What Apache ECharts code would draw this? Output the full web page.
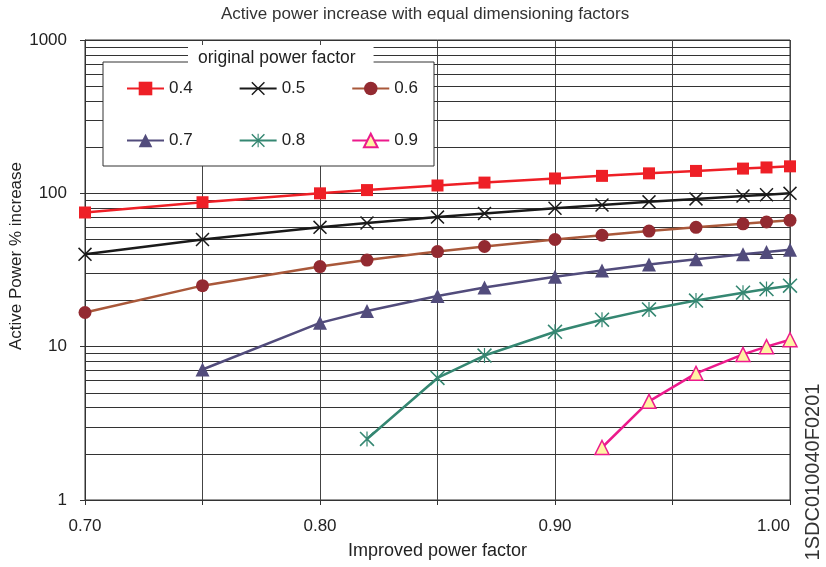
<!DOCTYPE html>
<html><head><meta charset="utf-8">
<script src="https://cdn.jsdelivr.net/npm/echarts@6/dist/echarts.min.js"></script>
<style>html,body{margin:0;padding:0;background:#fff}#c{width:826px;height:567px}</style>
</head><body><div id="c"></div>
<script>
// ---- data ----
const improvedPF = [0.70, 0.75, 0.80, 0.82, 0.85, 0.87, 0.90, 0.92, 0.94, 0.96, 0.98, 0.99, 1.00];
const pf04 = [75, 87.5, 100, 105, 112.5, 117.5, 125, 130, 135, 140, 145, 147.5, 150];
const pf05 = [40, 50, 60, 64, 70, 74, 80, 84, 88, 92, 96, 98, 100];
const pf06 = [16.7, 25, 33.3, 36.7, 41.7, 45, 50, 53.3, 56.7, 60, 63.3, 65, 66.7];
const pf07 = [null, 7.1, 14.3, 17.1, 21.4, 24.3, 28.6, 31.4, 34.3, 37.1, 40, 41.4, 42.9];
const pf08 = [null, null, null, 2.5, 6.25, 8.75, 12.5, 15, 17.5, 20, 22.5, 23.75, 25];
const pf09 = [null, null, null, null, null, null, null, 2.2, 4.4, 6.7, 8.9, 10, 11.1];
const seriesNames = ['0.4', '0.5', '0.6', '0.7', '0.8', '0.9'];
const xTickLabels = ['0.70', '0.80', '0.90', '1.00'];
const minorGridValues = [2, 3, 4, 5, 6, 7, 8, 9, 20, 30, 40, 50, 60, 70, 80, 90, 200, 300, 400, 500, 600, 700, 800, 900];

const FONT = 'Liberation Sans, Arial, sans-serif';
const crossPath = 'path://M0,1.5L1.5,0L10,8.5L18.5,0L20,1.5L11.5,10L20,18.5L18.5,20L10,11.5L1.5,20L0,18.5L8.5,10Z';
const asteriskPath = 'path://M0,1.5L1.5,0L20,18.5L18.5,20ZM18.5,0L20,1.5L1.5,20L0,18.5ZM9.2,0L10.8,0L10.8,20L9.2,20Z';

function pairs(vals) {
  const out = [];
  vals.forEach((v, i) => { if (v !== null) out.push([improvedPF[i], v]); });
  return out;
}

const styles = [
  { symbol: 'rect', size: 12, fill: '#ee1f26', line: '#ee1f26' },
  { symbol: crossPath, size: 14, fill: '#1a1a1a', line: '#1a1a1a' },
  { symbol: 'circle', size: 13, fill: '#932a31', line: '#a9583a' },
  { symbol: 'triangle', size: 14, fill: '#524c7c', line: '#524c7c' },
  { symbol: asteriskPath, size: 15, fill: '#358772', line: '#358772' },
  { symbol: 'triangle', size: 14, fill: '#fff3a4', line: '#ec1a8c', border: '#ec1a8c' }
];
const allVals = [pf04, pf05, pf06, pf07, pf08, pf09];

const series = allVals.map((vals, k) => {
  const s = styles[k];
  const o = {
    name: seriesNames[k], type: 'line', data: pairs(vals),
    symbol: s.symbol, symbolSize: s.size, showAllSymbol: true,
    itemStyle: { color: s.fill, opacity: 1 },
    lineStyle: { color: s.line, width: 2.5 },
    emphasis: { disabled: true }, z: 2
  };
  if (s.border) { o.itemStyle.borderColor = s.border; o.itemStyle.borderWidth = 1.5; }
  return o;
});
series[0].markLine = {
  silent: true, z: 1, symbol: ['none', 'none'], animation: false,
  label: { show: false },
  lineStyle: { color: '#333', width: 1, type: 'solid' },
  emphasis: { disabled: true },
  data: minorGridValues.map(v => ({ yAxis: v }))
};

const chart = echarts.init(document.getElementById('c'));
chart.setOption({
  animation: false,
  backgroundColor: '#fff',
  textStyle: { fontFamily: FONT },
  title: [
    { text: 'Active power increase with equal dimensioning factors', left: 221, top: 6, padding: 0,
      textStyle: { fontSize: 17, fontWeight: 'normal', color: '#333', fontFamily: FONT } },
    { text: 'original power factor', left: 188, top: 45, padding: [4, 18, 4, 10], backgroundColor: '#fff', z: 6,
      textStyle: { fontSize: 17.5, fontWeight: 'normal', color: '#222', fontFamily: FONT } }
  ],
  grid: { left: 85, right: 36, top: 40, bottom: 67, containLabel: false, outerBoundsMode: 'none',
          show: true, borderColor: '#333', borderWidth: 1, backgroundColor: 'transparent' },
  legend: [
    { data: seriesNames.slice(0, 3), left: 126, top: 80, padding: 0, itemWidth: 37, itemHeight: 17, itemGap: 46, z: 5,
      textStyle: { fontSize: 17, color: '#222', fontFamily: FONT }, selectedMode: false },
    { data: seriesNames.slice(3), left: 126, top: 132, padding: 0, itemWidth: 37, itemHeight: 17, itemGap: 46, z: 5,
      textStyle: { fontSize: 17, color: '#222', fontFamily: FONT }, selectedMode: false }
  ],
  graphic: [
    { type: 'rect', z: 3, shape: { x: 103, y: 62, width: 331, height: 104 },
      style: { fill: '#fff', stroke: '#333', lineWidth: 1 } },
    { type: 'text', z: 3, x: 813, y: 472, rotation: Math.PI / 2,
      style: { text: '1SDC010040F0201', font: '20px ' + FONT, fill: '#333', align: 'center', verticalAlign: 'middle',
               textAlign: 'center', textVerticalAlign: 'middle' } }
  ],
  xAxis: {
    type: 'value', min: 0.70, max: 1.00, interval: 0.05,
    name: 'Improved power factor', nameLocation: 'middle', nameGap: 42,
    nameTextStyle: { fontSize: 18, color: '#222', fontFamily: FONT },
    axisLine: { show: true, lineStyle: { color: '#333', width: 1 } },
    axisTick: { show: true, length: 5, lineStyle: { color: '#333' } },
    axisLabel: { fontSize: 17, color: '#222', margin: 18, fontFamily: FONT, alignMaxLabel: 'right',
      formatter: v => { const s = v.toFixed(2); return xTickLabels.indexOf(s) >= 0 ? s : ''; } },
    splitLine: { show: true, lineStyle: { color: '#444', width: 1 } }
  },
  yAxis: {
    type: 'log', logBase: 10, min: 1, max: 1000,
    name: 'Active Power % increase', nameLocation: 'middle', nameGap: 60, nameMoveOverlap: false,
    nameTextStyle: { fontSize: 17, color: '#222', fontFamily: FONT, padding: [0, 0, 0, 28] },
    axisLine: { show: true, lineStyle: { color: '#333', width: 1 } },
    axisTick: { show: true, length: 5, lineStyle: { color: '#333' } },
    axisLabel: { fontSize: 17, color: '#222', margin: 18, fontFamily: FONT, formatter: v => String(Math.round(v)) },
    splitLine: { show: true, lineStyle: { color: '#333', width: 1 } }
  },
  series: series
});
</script>
</body></html>
